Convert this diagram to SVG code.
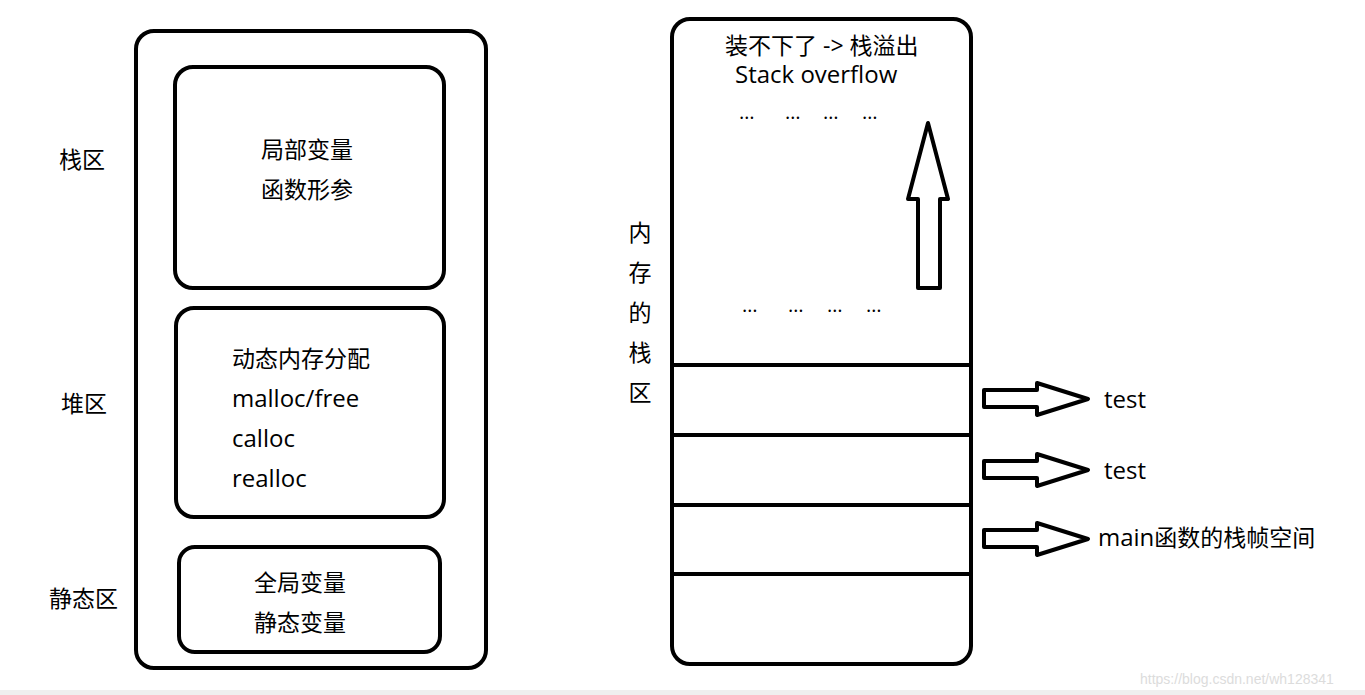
<svg xmlns="http://www.w3.org/2000/svg" width="1365" height="695" viewBox="0 0 1365 695">
<style>
.b{fill:none;stroke:#000;stroke-width:4;stroke-linejoin:round}
.t{font-family:"Open Sans","Noto Sans CJK SC",sans-serif;font-size:23px;fill:#000}
.l{font-size:24px}
.c{text-anchor:middle}
.d{font-family:"Open Sans",sans-serif;font-size:20px;fill:#000}
</style>
<rect width="1365" height="695" fill="#fff"/>
<rect x="0" y="690" width="1365" height="5" fill="#efefef"/>
<g id="labels-left">
<text class="t" x="59" y="168">栈区</text>
<text class="t" x="61" y="412">堆区</text>
<text class="t" x="49" y="607">静态区</text>
</g>
<g id="memory-layout">
<rect class="b" x="136" y="31" width="350" height="637" rx="18"/>
</g>
<g id="stack-area">
<rect class="b" x="175" y="67" width="269" height="221" rx="18"/>
<text class="t c" x="307" y="158">局部变量</text>
<text class="t c" x="307" y="198">函数形参</text>
</g>
<g id="heap-area">
<rect class="b" x="176" y="308" width="268" height="209" rx="18"/>
<text class="t" x="232" y="367">动态内存分配</text>
<text class="t l" x="232" y="407">malloc/free</text>
<text class="t l" x="232" y="447">calloc</text>
<text class="t l" x="232" y="487">realloc</text>
</g>
<g id="static-area">
<rect class="b" x="179" y="547" width="261" height="105" rx="16"/>
<text class="t c" x="300" y="591">全局变量</text>
<text class="t c" x="300" y="631">静态变量</text>
</g>
<g id="stack-label">
<text class="t c" x="640" y="241">内</text>
<text class="t c" x="640" y="281">存</text>
<text class="t c" x="640" y="321">的</text>
<text class="t c" x="640" y="361">栈</text>
<text class="t c" x="640" y="401">区</text>
</g>
<g id="stack-memory">
<rect class="b" x="672" y="19" width="299" height="645" rx="18"/>
<line class="b" x1="672" y1="365" x2="971" y2="365"/>
<line class="b" x1="672" y1="435" x2="971" y2="435"/>
<line class="b" x1="672" y1="505" x2="971" y2="505"/>
<line class="b" x1="672" y1="574" x2="973" y2="574"/>
<text class="t" x="725" y="54">装不下了 -&gt; 栈溢出</text>
<text class="t l" x="735" y="83">Stack overflow</text>
<text class="d" x="739" y="119">…</text>
<text class="d" x="785" y="119">…</text>
<text class="d" x="823" y="119">…</text>
<text class="d" x="862" y="119">…</text>
<text class="d" x="742" y="312">…</text>
<text class="d" x="788" y="312">…</text>
<text class="d" x="827" y="312">…</text>
<text class="d" x="866" y="312">…</text>
</g>
<g id="connectors">
<path class="b" d="M928 123 L948 199 L940 199 L940 288 L918 288 L918 199 L908 199 Z"/>
<path class="b" d="M984 390 L1037 390 L1037 383 L1088 399 L1037 415 L1037 407 L984 407 Z"/>
<path class="b" d="M984 461 L1037 461 L1037 454 L1088 470 L1037 486 L1037 478 L984 478 Z"/>
<path class="b" d="M984 530 L1037 530 L1037 523 L1088 539 L1037 555 L1037 547 L984 547 Z"/>
</g>
<g id="frame-labels">
<text class="t l" x="1104" y="408">test</text>
<text class="t l" x="1104" y="479">test</text>
<text class="t" x="1098" y="546"><tspan class="l">main</tspan>函数的栈帧空间</text>
</g>
<text x="1140" y="684" font-family="Liberation Sans, sans-serif" font-size="14" fill="#dcdcdc">https://blog.csdn.net/wh128341</text>
</svg>
